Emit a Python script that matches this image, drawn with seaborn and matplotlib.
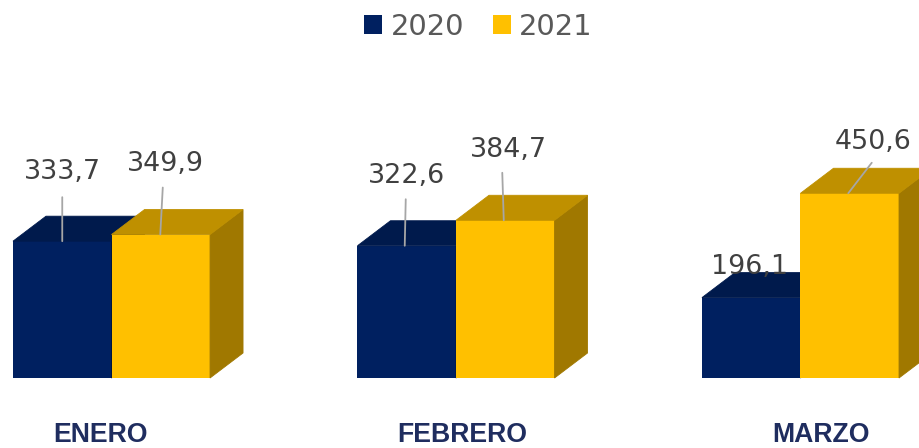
import matplotlib
matplotlib.use("Agg")
import matplotlib.pyplot as plt
import numpy as np
import pandas as pd
import seaborn as sns
from matplotlib.patches import Polygon, Rectangle

# ---- data ----
meses = ["ENERO", "FEBRERO", "MARZO"]
anios = ["2020", "2021"]
valores_2020 = [333.7, 322.6, 196.1]
valores_2021 = [349.9, 384.7, 450.6]

# ---- styles ----
front_colors = {"2020": "#002060", "2021": "#FFC000"}
top_colors = {"2020": "#001A4C", "2021": "#BF9000"}
side_colors = {"2020": "#00153D", "2021": "#A07800"}

# label placement (pixel offsets from the front-top centre of each bar)
label_dx = {"2020": [0, 0, -2], "2021": [5, 3, 23]}
label_dy = {"2020": [62, 62.5, 24], "2021": [64, 63.5, 44.5]}
leader_start = {"2020": [(0, 44), (1, 46.5), None],
                "2021": [(2.5, 47), (-1.5, 47.5), (23.5, 30.5)]}
leader_end_dx = {"2020": [0, -2, 0], "2021": [-0.5, -1.5, -1.5]}
cat_dx = [-11, 6, 20.5]

df = pd.DataFrame({
    "mes": meses * 2,
    "año": [anios[0]] * len(meses) + [anios[1]] * len(meses),
    "valor": valores_2020 + valores_2021,
})

W, H = 919, 448
sns.set_theme(style="white")
plt.rcParams["font.family"] = ["DejaVu Sans"]

fig = plt.figure(figsize=(W / 100, H / 100), dpi=100)
ax_h_px = 378
ax = fig.add_axes([0, (H - ax_h_px) / H, 1, ax_h_px / H])

sns.barplot(data=df, x="mes", y="valor", hue="año", order=meses,
            hue_order=anios, palette=front_colors, saturation=1,
            width=0.572, linewidth=0, ax=ax, legend=False)

xlim = (-0.3237, 2.344)
ylim = (0, ax_h_px / 0.41)
ax.set_xlim(*xlim)
ax.set_ylim(*ylim)
ax.axis("off")

px_x = (xlim[1] - xlim[0]) / W
px_y = (ylim[1] - ylim[0]) / ax_h_px
dx = 33 * px_x
dy = 25 * px_y

for hi, (anio, cont) in enumerate(zip(anios, ax.containers)):
    base = 2 + 2 * hi
    for mi, bar in enumerate(cont.patches):
        x0 = bar.get_x()
        w = bar.get_width()
        h = bar.get_height()
        bar.set_zorder(base)
        top = Polygon([(x0, h), (x0 + w, h), (x0 + w + dx, h + dy), (x0 + dx, h + dy)],
                      closed=True, facecolor=top_colors[anio], edgecolor=top_colors[anio],
                      lw=0.6, zorder=base + 0.2, clip_on=False)
        side = Polygon([(x0 + w, 0), (x0 + w + dx, dy), (x0 + w + dx, h + dy), (x0 + w, h)],
                       closed=True, facecolor=side_colors[anio], edgecolor=side_colors[anio],
                       lw=0.6, zorder=base + 0.1, clip_on=False)
        ax.add_patch(side)
        ax.add_patch(top)

        xc = x0 + w / 2
        txt = f"{h:.1f}".replace(".", ",")
        ax.annotate(txt, xy=(xc, h), xytext=(label_dx[anio][mi], label_dy[anio][mi]),
                    textcoords="offset pixels", ha="center", va="baseline",
                    fontsize=19.4, color="#404040", zorder=20,
                    annotation_clip=False)
        st = leader_start[anio][mi]
        if st is not None:
            ax.annotate("", xy=(xc + leader_end_dx[anio][mi] * px_x, h), xytext=st,
                        textcoords="offset pixels",
                        arrowprops=dict(arrowstyle="-", color="#A6A6A6", lw=1.3,
                                        shrinkA=0, shrinkB=0),
                        zorder=15, annotation_clip=False)

for i, mes in enumerate(meses):
    ax.annotate(mes, xy=(i, 0), xytext=(cat_dx[i], -64), textcoords="offset pixels",
                ha="center", va="baseline", fontsize=19.2, fontweight="bold",
                color="#1F2D5F", family=["Liberation Sans", "DejaVu Sans"],
                annotation_clip=False)

handles = [Rectangle((0, 0), 1, 1, facecolor=front_colors[a], edgecolor="none") for a in anios]
fig.legend(handles, anios, loc="center", bbox_to_anchor=(478.5 / W, 1 - 27 / H),
           ncol=2, frameon=False, fontsize=20.9, handlelength=0.62, handleheight=0.62,
           handletextpad=0.3, columnspacing=0.97, labelcolor="#595959",
           borderaxespad=0, borderpad=0)

fig.savefig("out.png", dpi=100)
